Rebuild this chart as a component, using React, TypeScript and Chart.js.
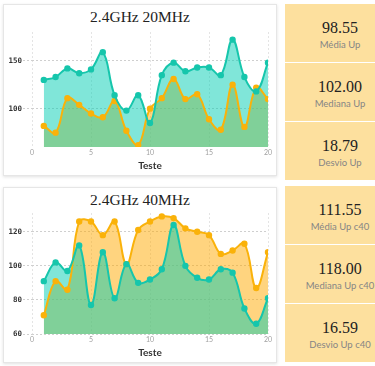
import React, { useEffect, useRef } from "react";
import { Chart, registerables } from "chart.js";

Chart.register(...registerables);

// ---- data ----
const tests = [1, 2, 3, 4, 5, 6, 7, 8, 9, 10, 11, 12, 13, 14, 15, 16, 17, 18, 19, 20];

const title20 = "2.4GHz 20MHz";
const teal20 = [130, 133, 142, 137, 141, 159, 114, 98, 114, 85, 135, 148, 139, 143, 143, 135, 172, 133, 118, 148];
const orange20 = [82, 75, 111, 104, 95, 91, 108, 77, 62, 100, 111, 131, 110, 115, 89, 78, 125, 81, 122, 110];
const yTicks20 = [100, 150];

const title40 = "2.4GHz 40MHz";
const teal40 = [91, 102, 97, 112, 77, 108, 81, 101, 90, 92, 98, 124, 100, 93, 92, 98, 96, 75, 66, 81];
const orange40 = [71, 91, 86, 126, 126, 118, 126, 101, 121, 126, 129, 128, 122, 120, 118, 107, 109, 113, 87, 108];
const yTicks40 = [60, 80, 100, 120];

const xTitle = "Teste";

const stats20 = [
  { value: "98.55", label: "Média Up" },
  { value: "102.00", label: "Mediana Up" },
  { value: "18.79", label: "Desvio Up" },
];
const stats40 = [
  { value: "111.55", label: "Média Up c40" },
  { value: "118.00", label: "Mediana Up c40" },
  { value: "16.59", label: "Desvio Up c40" },
];

const TEAL_LINE = "rgb(22,198,172)";
const TEAL_FILL = "rgba(1,206,180,0.5)";
const ORANGE_LINE = "rgb(250,178,10)";
const ORANGE_FILL = "rgba(255,170,0,0.5)";

type CardProps = {
  top: number;
  height: number;
  padTop: number;
  title: string;
  teal: number[];
  orange: number[];
  yMin: number;
  yMax: number;
  yTicks: number[];
};

function ChartCard(p: CardProps) {
  const ref = useRef<HTMLCanvasElement>(null);
  useEffect(() => {
    if (!ref.current) return;
    const mk = (vals: number[]) => tests.map((t, i) => ({ x: t, y: vals[i] }));
    const chart = new Chart(ref.current, {
      type: "line",
      data: {
        datasets: [
          {
            data: mk(p.teal),
            borderColor: TEAL_LINE,
            backgroundColor: TEAL_FILL,
            pointBackgroundColor: TEAL_LINE,
            pointBorderColor: TEAL_LINE,
            pointRadius: 2.2,
            borderWidth: 2,
            tension: 0.4,
            fill: "start",
          },
          {
            data: mk(p.orange),
            borderColor: ORANGE_LINE,
            backgroundColor: ORANGE_FILL,
            pointBackgroundColor: ORANGE_LINE,
            pointBorderColor: ORANGE_LINE,
            pointRadius: 2.2,
            borderWidth: 2,
            tension: 0.4,
            fill: "start",
          },
        ],
      },
      options: {
        responsive: false,
        animation: false,
        layout: { padding: { top: p.padTop, right: 9, left: 0, bottom: 0 } },
        plugins: {
          legend: { display: false },
          tooltip: { enabled: false },
          filler: { drawTime: "beforeDatasetsDraw" },
        },
        scales: {
          x: {
            type: "linear",
            min: 0,
            max: 20,
            afterFit: (s: any) => {
              s.height = 29;
            },
            ticks: {
              stepSize: 5,
              padding: 2,
              color: "#a0a0a0",
              font: { family: "Lato", size: 7 },
            },
            grid: { color: "#e4e4e4", drawTicks: false },
            border: { display: false, dash: [2, 2] },
            title: {
              display: true,
              text: xTitle,
              color: "#333",
              font: { family: "Lato", size: 10, weight: "bold" },
              padding: { top: 0, bottom: 4 },
            },
          },
          y: {
            min: p.yMin,
            max: p.yMax,
            afterFit: (s: any) => {
              s.width = 29;
            },
            afterBuildTicks: (s: any) => {
              s.ticks = p.yTicks.map((v) => ({ value: v }));
            },
            ticks: {
              padding: 1,
              color: "#333",
              font: { family: "DejaVu Sans Mono", size: 7.5, weight: "bold" },
            },
            grid: {
              color: "#cfcfcf",
              tickColor: "#cfcfcf",
              tickLength: 9,
              tickBorderDash: [2, 2],
            },
            border: { display: false, dash: [2, 2] },
          },
        },
      },
    } as any);
    return () => chart.destroy();
  }, []);
  return (
    <>
      <div
        style={{
          position: "absolute",
          left: 3,
          top: p.top,
          width: 274,
          height: p.height,
          background: "#fff",
          border: "1px solid #e6e6e6",
          boxSizing: "border-box",
          boxShadow: "0 1px 3px rgba(0,0,0,0.12)",
        }}
      />
      <div
        style={{
          position: "absolute",
          left: 3,
          top: p.top + 4,
          width: 274,
          textAlign: "center",
          fontFamily: "'Liberation Serif', serif",
          fontSize: 15.5,
          lineHeight: "18px",
          color: "#222",
        }}
      >
        {p.title}
      </div>
      <canvas
        ref={ref}
        width={274}
        height={p.height}
        style={{ position: "absolute", left: 3, top: p.top, width: 274, height: p.height }}
      />
    </>
  );
}

function StatBox({ top, value, label }: { top: number; value: string; label: string }) {
  return (
    <div
      style={{
        position: "absolute",
        left: 285,
        top,
        width: 110,
        height: 58,
        background: "#fde09e",
      }}
    >
      <div
        style={{
          position: "absolute",
          left: 0,
          width: 110,
          top: 14,
          textAlign: "center",
          fontFamily: "'Liberation Serif', serif",
          fontSize: 16,
          lineHeight: "20px",
          color: "#222",
        }}
      >
        {value}
      </div>
      <div
        style={{
          position: "absolute",
          left: 0,
          width: 110,
          top: 34,
          textAlign: "center",
          fontFamily: "Lato, sans-serif",
          fontSize: 9.5,
          lineHeight: "14px",
          color: "#858585",
        }}
      >
        {label}
      </div>
    </div>
  );
}

export default function App() {
  useEffect(() => {
    document.body.style.margin = "0";
  }, []);
  return (
    <div style={{ position: "relative", width: 375, height: 366, overflow: "hidden", background: "#fff" }}>
      <ChartCard
        top={4}
        height={172}
        padTop={28}
        title={title20}
        teal={teal20}
        orange={orange20}
        yMin={60}
        yMax={180}
        yTicks={yTicks20}
      />
      <ChartCard
        top={187}
        height={176}
        padTop={26}
        title={title40}
        teal={teal40}
        orange={orange40}
        yMin={60}
        yMax={131}
        yTicks={yTicks40}
      />
      {stats20.map((s, i) => (
        <StatBox key={"a" + i} top={[4, 63, 122][i]} value={s.value} label={s.label} />
      ))}
      {stats40.map((s, i) => (
        <StatBox key={"b" + i} top={[186, 245, 304][i]} value={s.value} label={s.label} />
      ))}
    </div>
  );
}
